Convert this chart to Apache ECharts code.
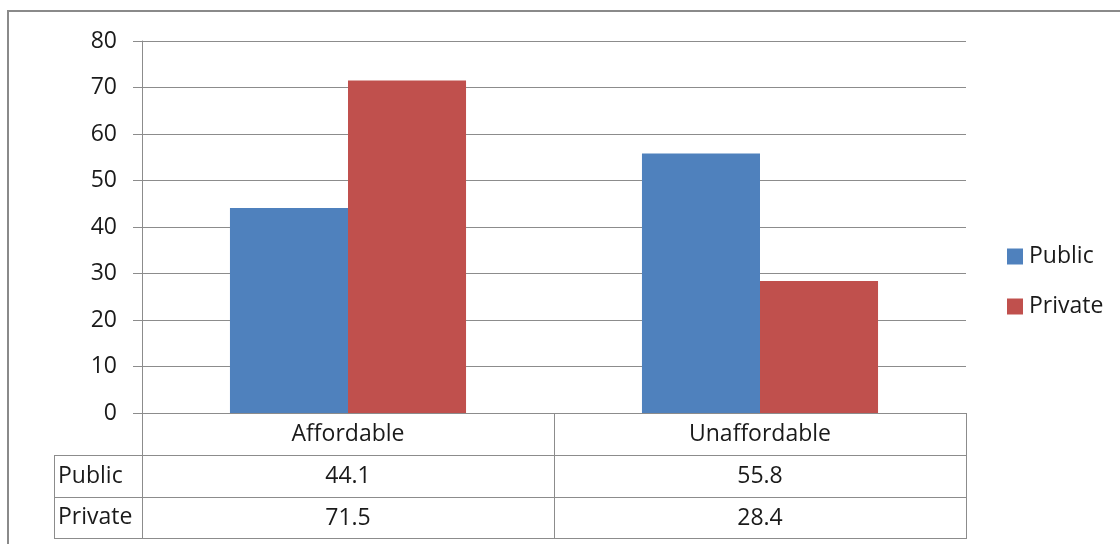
<!DOCTYPE html>
<html>
<head>
<meta charset="utf-8">
<script src="https://cdn.jsdelivr.net/npm/echarts@6/dist/echarts.min.js"></script>
<style>
  html, body { margin: 0; padding: 0; background: #fff; }
  #chart { width: 1120px; height: 544px; }
</style>
</head>
<body>
<div id="chart"></div>
<script>
// Affordability by sector
const categories = ['Affordable', 'Unaffordable'];
const seriesNames = ['Public', 'Private'];
const publicValues = [44.1, 55.8];
const privateValues = [71.5, 28.4];
const yTicks = { min: 0, max: 80, interval: 10 };

const FONT = '"Open Sans", Lato, sans-serif';
const FS = 23;
const LINE = '#8c8c8c';
const TEXT = '#1a1a1a';
const BLUE = '#4f81bd';
const RED = '#c0504d';

const chart = echarts.init(document.getElementById('chart'), null, { renderer: 'canvas' });

const ROW = 42;
const tableAxis = (offset, values, showTicks) => ({
  type: 'category',
  position: 'bottom',
  gridIndex: 0,
  offset: offset,
  data: categories,
  axisLine: { show: true, lineStyle: { color: LINE, width: 1 } },
  axisTick: { show: showTicks, length: ROW, lineStyle: { color: LINE, width: 1 } },
  axisLabel: {
    show: !!values,
    margin: 10,
    fontSize: FS,
    fontFamily: FONT,
    color: TEXT,
    formatter: (v, i) => values ? String(values[i]) : ''
  },
  splitLine: { show: false }
});

const option = {
  animation: false,
  backgroundColor: '#ffffff',
  textStyle: { fontFamily: FONT },
  grid: { left: 142, right: 154, top: 41, bottom: 131, containLabel: false },
  legend: {
    orient: 'vertical',
    left: 1002,
    top: 240,
    itemWidth: 16,
    itemHeight: 16,
    itemGap: 27,
    icon: 'rect',
    data: seriesNames,
    textStyle: { fontSize: FS, fontFamily: FONT, color: TEXT, padding: [0, 0, 0, 1] }
  },
  xAxis: [
    Object.assign(tableAxis(0, categories, true), {
      axisLabel: { margin: 10, fontSize: FS, fontFamily: FONT, color: TEXT }
    }),
    tableAxis(ROW, publicValues, true),
    tableAxis(ROW * 2, privateValues, true),
    tableAxis(ROW * 3 - 1, null, false)
  ],
  yAxis: {
    type: 'value',
    min: yTicks.min,
    max: yTicks.max,
    interval: yTicks.interval,
    axisLine: { show: true, lineStyle: { color: LINE, width: 1 } },
    axisTick: { show: true, length: 9, lineStyle: { color: LINE, width: 1 } },
    axisLabel: { margin: 25, fontSize: FS, fontFamily: FONT, color: TEXT },
    splitLine: { show: true, lineStyle: { color: LINE, width: 1 } }
  },
  series: [
    {
      name: seriesNames[0],
      type: 'bar',
      xAxisIndex: 0,
      data: publicValues,
      itemStyle: { color: BLUE },
      barGap: '0%',
      barCategoryGap: '42.7%'
    },
    {
      name: seriesNames[1],
      type: 'bar',
      xAxisIndex: 0,
      data: privateValues,
      itemStyle: { color: RED },
      barGap: '0%',
      barCategoryGap: '42.7%'
    }
  ]
};

chart.setOption(option);

// Row-header column of the data table and the outer frame
function drawFrame() {
  const gridLeft = 142;
  const axisY = chart.convertToPixel({ yAxisIndex: 0 }, 0);
  const tableLeft = 54;
  const rows = [axisY + ROW, axisY + ROW * 2, axisY + ROW * 3 - 1];
  const elements = [
    {
      type: 'rect',
      shape: { x: 8, y: 11, width: 1140, height: 560 },
      style: { fill: 'none', stroke: '#8a8a8a', lineWidth: 2 },
      silent: true
    },
    {
      type: 'line',
      shape: { x1: tableLeft + 0.5, y1: rows[0], x2: tableLeft + 0.5, y2: rows[2] },
      style: { stroke: LINE, lineWidth: 1 }
    }
  ];
  rows.forEach(y => {
    elements.push({
      type: 'line',
      shape: { x1: tableLeft, y1: Math.round(y) + 0.5, x2: gridLeft, y2: Math.round(y) + 0.5 },
      style: { stroke: LINE, lineWidth: 1 }
    });
  });
  seriesNames.forEach((name, i) => {
    elements.push({
      type: 'text',
      x: tableLeft + 4,
      y: rows[i] + (rows[i + 1] - rows[i]) / 2,
      style: {
        text: name,
        fontSize: FS,
        fontFamily: FONT,
        fill: TEXT,
        verticalAlign: 'middle',
        align: 'left'
      }
    });
  });
  chart.setOption({ graphic: { elements: elements } });
}
drawFrame();
</script>
</body>
</html>
